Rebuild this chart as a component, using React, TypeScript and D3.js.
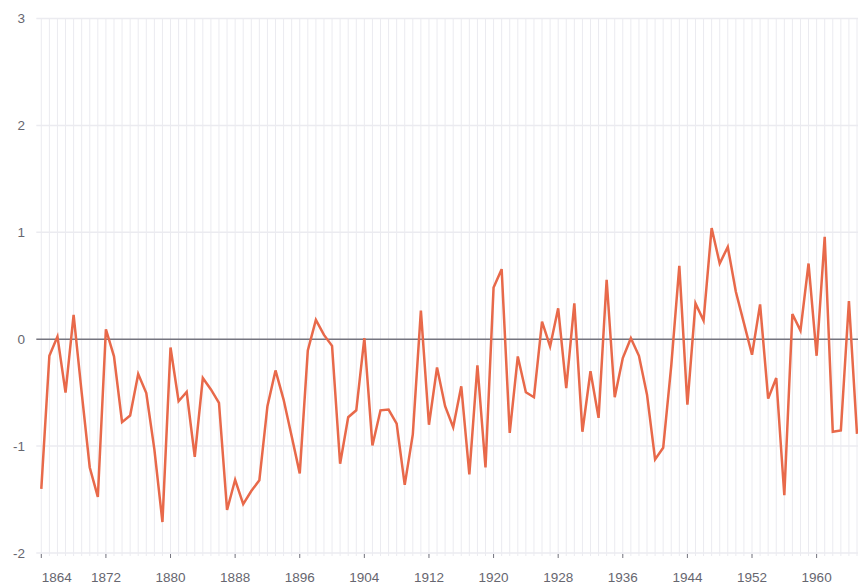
import * as d3 from "d3";

const startYear = 1864;
const anomalies = [
  -1.4, -0.155, 0.025, -0.5, 0.227, -0.5, -1.2, -1.475, 0.093, -0.16,
  -0.776, -0.714, -0.326, -0.503, -1.03, -1.71, -0.078, -0.58, -0.494, -1.1,
  -0.363, -0.47, -0.596, -1.598, -1.315, -1.543, -1.42, -1.32, -0.627, -0.292,
  -0.565, -0.907, -1.255, -0.106, 0.18, 0.04, -0.062, -1.165, -0.73, -0.665,
  0.01, -0.994, -0.665, -0.658, -0.789, -1.363, -0.89, 0.267, -0.8, -0.264,
  -0.627, -0.823, -0.441, -1.264, -0.245, -1.2, 0.484, 0.655, -0.876, -0.161,
  -0.497, -0.543, 0.165, -0.068, 0.289, -0.457, 0.335, -0.866, -0.3, -0.736,
  0.556, -0.543, -0.177, 0.009, -0.155, -0.519, -1.124, -1.016, -0.25, 0.686,
  -0.612, 0.335, 0.174, 1.04, 0.708, 0.863, 0.444, 0.15, -0.146, 0.326,
  -0.556, -0.363, -1.46, 0.236, 0.081, 0.708, -0.155, 0.957, -0.866, -0.854,
  0.357, -0.885,
];
const years = anomalies.map((_, i) => startYear + i);
const xTickYears = [1864, 1872, 1880, 1888, 1896, 1904, 1912, 1920, 1928, 1936, 1944, 1952, 1960];
const yTicks = [-2, -1, 0, 1, 2, 3];

const width = 858;
const height = 584;
const margin = { top: 18.5, right: 1, bottom: 31, left: 41.3 };

export default function App() {
  const x = d3
    .scaleLinear()
    .domain([years[0], years[years.length - 1]])
    .range([margin.left, width - margin.right]);
  const y = d3
    .scaleLinear()
    .domain([-2, 3])
    .range([height - margin.bottom, margin.top]);

  const line = d3
    .line<number>()
    .x((_, i) => x(years[i]))
    .y((d) => y(d));

  const gridLeft = margin.left - 5;

  return (
    <svg
      width={width}
      height={height}
      style={{ position: "absolute", left: 0, top: 0, background: "#fff" }}
      fontFamily="'Liberation Sans', Arial, sans-serif"
    >
      {/* vertical year grid */}
      <g stroke="#ebebf0" strokeWidth={1}>
        {years.map((yr) => (
          <line key={yr} x1={x(yr)} x2={x(yr)} y1={y(3)} y2={y(-2) + 3} />
        ))}
      </g>
      {/* horizontal grid */}
      <g stroke="#ebebf0" strokeWidth={1.5}>
        {yTicks
          .filter((t) => t !== 0)
          .map((t) => (
            <line key={t} x1={gridLeft} x2={width} y1={y(t)} y2={y(t)} />
          ))}
      </g>
      <line x1={gridLeft} x2={width} y1={y(0)} y2={y(0)} stroke="#75757f" strokeWidth={1.5} />
      {/* y labels */}
      <g fill="#66666f" fontSize={13.5} textAnchor="end">
        {yTicks.map((t) => (
          <text key={t} x={25} y={y(t)} dy="0.35em">
            {t}
          </text>
        ))}
      </g>
      {/* x ticks */}
      <g>
        {xTickYears.map((yr, i) => (
          <g key={yr} transform={`translate(${x(yr)},${y(-2)})`}>
            <line y1={1} y2={5} stroke="#75757f" strokeWidth={1} />
            <text
              x={i === 0 ? 0.5 : 0}
              y={29}
              fill="#66666f"
              fontSize={13.5}
              textAnchor={i === 0 ? "start" : "middle"}
            >
              {yr}
            </text>
          </g>
        ))}
      </g>
      <path
        d={line(anomalies) ?? ""}
        fill="none"
        stroke="#e8694a"
        strokeWidth={2.5}
        strokeLinejoin="miter"
      />
    </svg>
  );
}
